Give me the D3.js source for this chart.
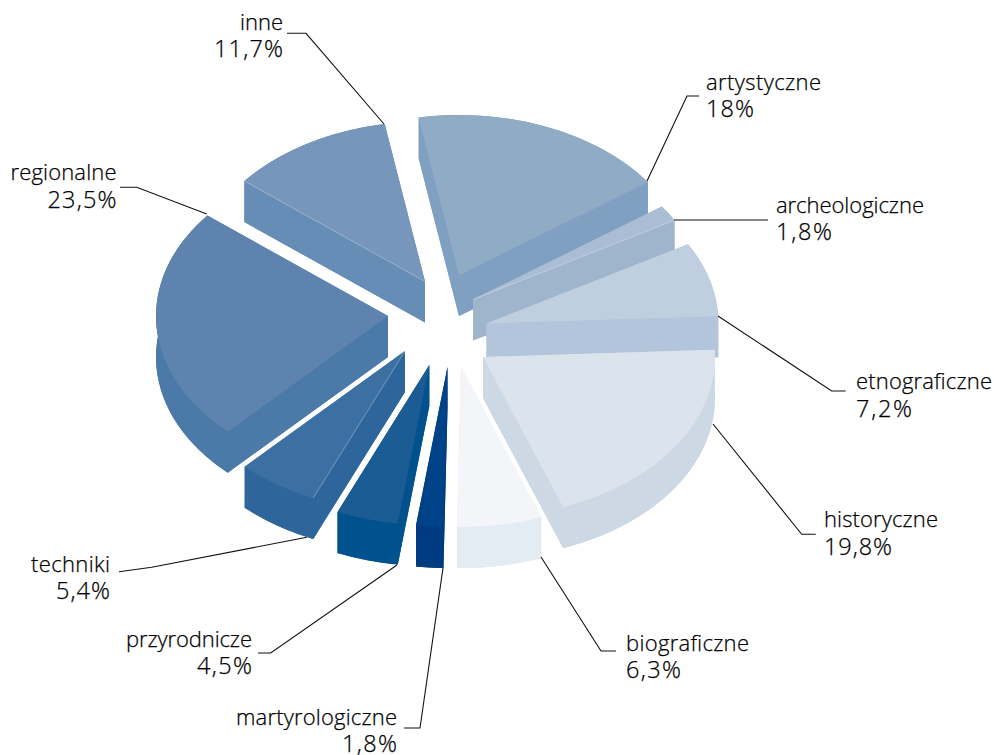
<!DOCTYPE html>
<html lang="pl">
<head>
<meta charset="utf-8">
<script src="https://cdn.jsdelivr.net/npm/d3@7/dist/d3.min.js"></script>
<style>
html,body{margin:0;padding:0;background:#fff}
svg{display:block}
text{font-family:"Open Sans",sans-serif;font-weight:300;fill:#000;stroke:#000;stroke-width:.25px}
</style>
</head>
<body>
<svg id="c" width="994" height="755"></svg>
<script>
// data
const categories = ["artystyczne","archeologiczne","etnograficzne","historyczne","biograficzne","martyrologiczne","przyrodnicze","techniki","regionalne","inne"];
const values = [18,1.8,7.2,19.8,6.3,1.8,4.5,5.4,23.5,11.7];
const valueLabels = ["18%","1,8%","7,2%","19,8%","6,3%","1,8%","4,5%","5,4%","23,5%","11,7%"];
// styles
const topColors  = ["#8FABC6","#A9BDD5","#BFCFE0","#DBE3ED","#F3F5F9","#004288","#1B5C94","#3D70A2","#5E83AF","#7696BB"];
const sideColors = ["#80A0C2","#9FB5CC","#B3C5DB","#CCD9E5","#E3EBF3","#003A80","#00528E","#2E669C","#4B7AA8","#668DB5"];
// layout
const apexX = [459,473,486.5,483,461,447.5,429.3,405,388,425];
const apexY = [275,299.5,323.5,357,367,367,365,351,316,281.5];
const boundaryShift = [0,-0.3,-1.0,0.2,1.3,-0.16,0.16,-0.54,0.42,1.0,0]; // degrees, the reference's rounding
const seamEdge = [null,"end",null,null,null,null,null,"start",null,"start"];
const drawOrder = [0,1,2,3,9,8,7,6,5,4];
const labelX = [706,776,856,824,626,397,252,110,116.5,283];
const labelY = [89.5,212.5,388.5,526.5,650.7,725,646.7,571.7,180.3,29.5];
const valueY = [116.7,240,416.5,555,678.3,752.3,674,599.3,208.3,57.3];
const labelW = [115,148,136,114,123,161,126,79,106,43];
const valueW = [48,56,56,68,55,55,55,54,69,69];
const labelAnchor = ["start","start","start","start","start","end","end","end","end","end"];
const leaders = [
 [[699,96],[687,96],[647,181]],
 [[768,220],[674,220]],
 [[718,316],[831.7,391],[845.7,391]],
 [[713,424],[801.7,534.3],[815.7,534.3]],
 [[541,557],[601,651],[616,651]],
 [[443,568],[420,728],[404,728]],
 [[397,565],[270.7,653],[258,653]],
 [[306.7,537.3],[151.7,567.3],[119,571.7]],
 [[120,187.3],[136.7,187.3],[206.7,214]],
 [[287,33.3],[306,33.3],[384,124]]
];
const rx = 232, ry = 160, depth = 41;
const deg = Math.PI/180;

const svg = d3.select("#c");
const pie = d3.pie().sort(null).startAngle(-10*deg).endAngle(350*deg);
const arcs = pie(values).map((a,i)=>({...a,
  startAngle:a.startAngle+boundaryShift[i]*deg,
  endAngle:a.endAngle+boundaryShift[i+1]*deg}));
const arc = d3.arc().innerRadius(0).outerRadius(rx);
const line = d3.line();
const yScale = d3.scaleLinear().domain([0,rx]).range([0,ry]);
const rim = (a,i,dy=0)=>[apexX[i]+rx*Math.sin(a), apexY[i]-yScale(rx*Math.cos(a))+dy];

drawOrder.forEach(i=>{
  const a = arcs[i], g = svg.append("g");
  const steps = d3.range(0,41).map(k=>a.startAngle+(a.endAngle-a.startAngle)*k/40);
  g.append("path").attr("fill",sideColors[i])
   .attr("d",line([...steps.map(t=>rim(t,i)),...steps.slice().reverse().map(t=>rim(t,i,depth))])+"Z");
  [a.startAngle,a.endAngle].forEach(t=>{
    g.append("path").attr("fill",sideColors[i])
     .attr("d",line([[apexX[i],apexY[i]],rim(t,i),rim(t,i,depth),[apexX[i],apexY[i]+depth]])+"Z");
  });
  g.append("path").attr("fill",sideColors[i])
   .attr("transform",`translate(${apexX[i]},${apexY[i]+depth}) scale(1,${ry/rx})`)
   .attr("d",arc(a));
  g.append("path").attr("fill",topColors[i])
   .attr("transform",`translate(${apexX[i]},${apexY[i]}) scale(1,${ry/rx})`)
   .attr("d",arc(a));
  if(seamEdge[i]){
    const t = seamEdge[i]==="end" ? a.endAngle : a.startAngle;
    g.append("path").attr("fill","none").attr("stroke","#fff").attr("stroke-opacity",0.45).attr("stroke-width",0.7)
     .attr("d",line([[apexX[i],apexY[i]],rim(t,i)]));
  }
});

categories.forEach((c,i)=>{
  svg.append("path").attr("fill","none").attr("stroke","#111").attr("stroke-width",1.1)
     .attr("d",line(leaders[i]));
  svg.append("text").attr("text-anchor",labelAnchor[i]).attr("x",labelX[i]).attr("y",labelY[i])
     .attr("font-size",22).attr("textLength",labelW[i]).text(c);
  svg.append("text").attr("text-anchor",labelAnchor[i]).attr("x",labelX[i]).attr("y",valueY[i])
     .attr("font-size",23.5).attr("textLength",valueW[i]).text(valueLabels[i]);
});
</script>
</body>
</html>
